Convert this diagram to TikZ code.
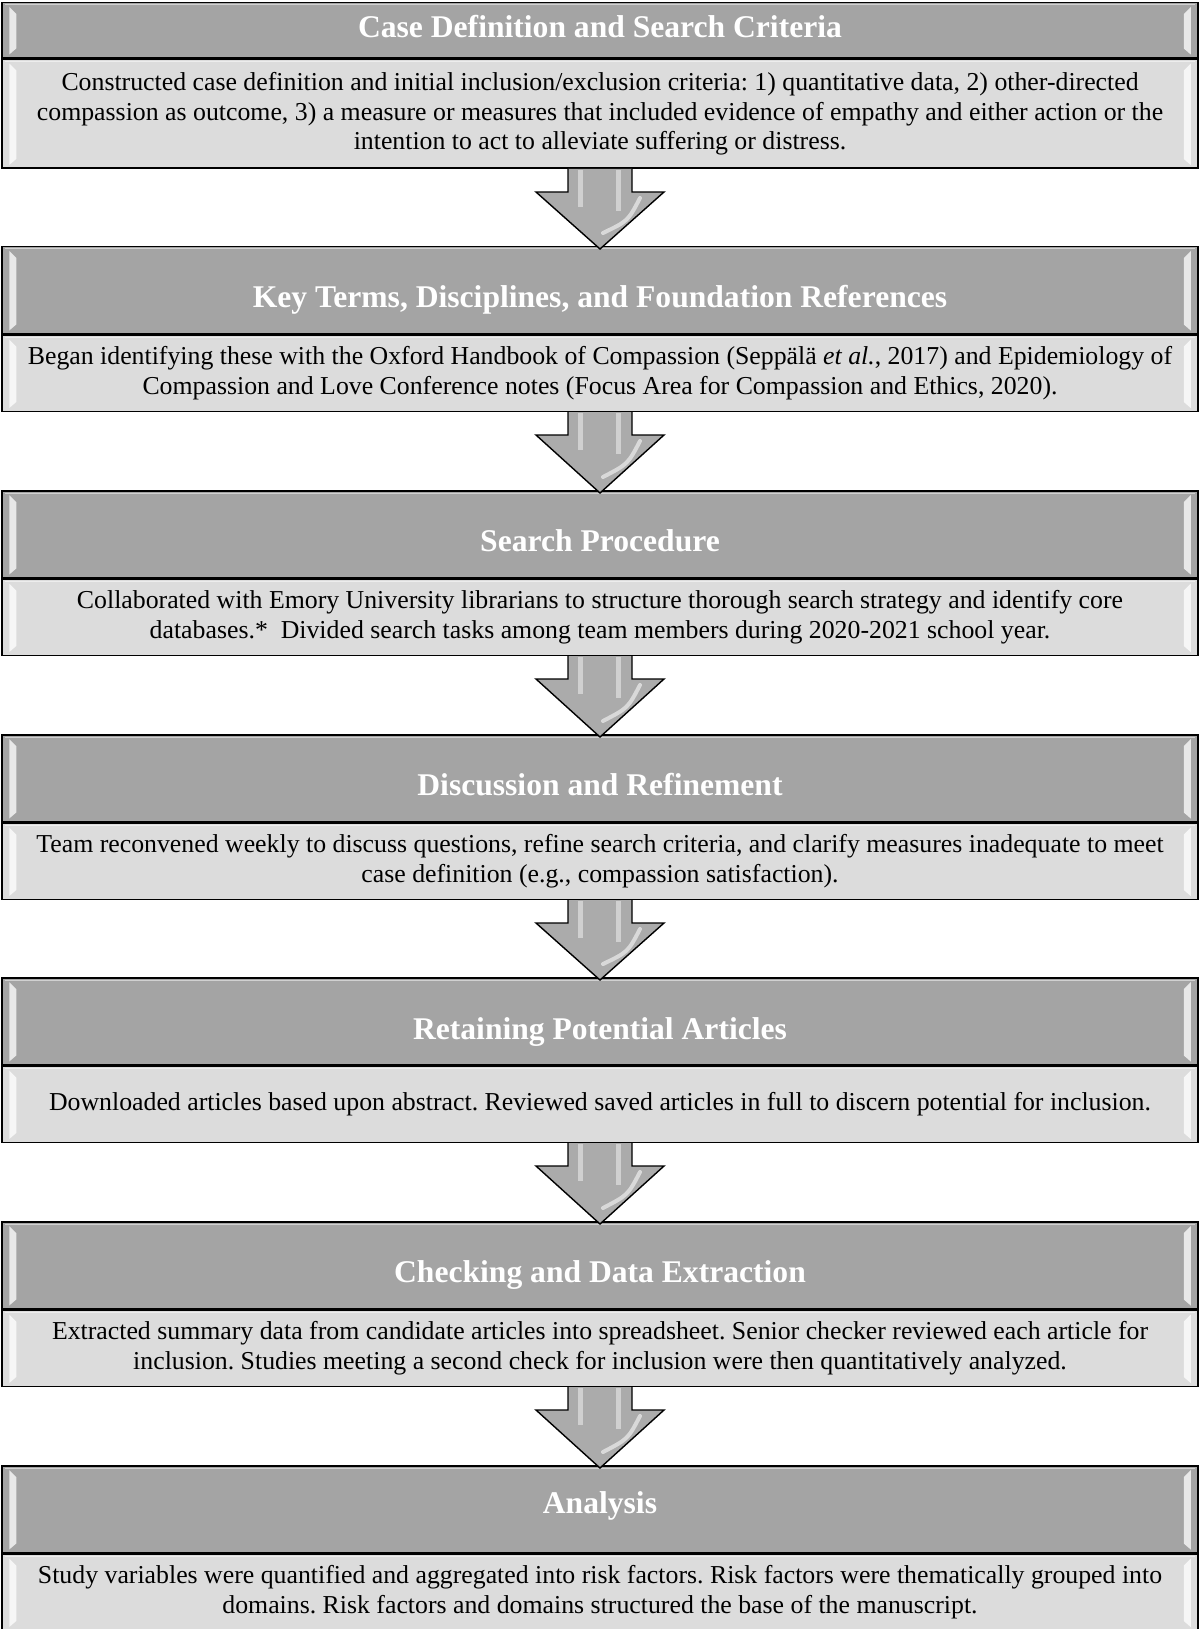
\documentclass[tikz,border=0pt]{standalone}
\usepackage{fontspec}
\setmainfont{Liberation Serif}
\usetikzlibrary{calc}
\definecolor{hdrgray}{HTML}{A4A4A4}
\definecolor{bodygray}{HTML}{DCDCDC}
\definecolor{arrowgray}{HTML}{ABABAB}
\tikzset{
  hdrbox/.style={draw=black, line width=1.5pt, fill=hdrgray, minimum width=1196pt,
    minimum height=#1, anchor=north, inner sep=0pt, text=white, text depth=0pt,
    text height=35pt, font=\fontsize{31.6}{36}\selectfont\bfseries},
  tshift/.style={text height=#1},
  bodybox/.style={draw=black, line width=1.5pt, fill=bodygray, minimum width=1196pt,
    minimum height=#1, anchor=north, inner sep=0pt, align=center,
    font=\fontsize{25.8}{29.5}\selectfont\frenchspacing},
  bevel/.style={fill=white, opacity=0.75},
  arrowedge/.style={draw=black, line width=1.4pt, line join=miter},
  shine/.style={draw=white, line width=5pt, opacity=0.45}
}
\newcommand\bevelbox[1]{%
  \fill[bevel] ($(#1.north west)+(8,-5)$) -- ($(#1.north west)+(15,-12)$)
     -- ($(#1.south west)+(15,10)$) -- ($(#1.south west)+(8,4)$) -- cycle;
  \fill[bevel] ($(#1.north east)+(-8,-5)$) -- ($(#1.north east)+(-15,-12)$)
     -- ($(#1.south east)+(-15,10)$) -- ($(#1.south east)+(-8,4)$) -- cycle;
  \draw[white, opacity=0.5, line width=1pt] ($(#1.north west)+(4,-3)$) -- ($(#1.north east)+(-4,-3)$);
}
\newcommand\blockarrow[2]{%
  \fill[arrowgray] ($(#1.south)+(-32,0)$) -- ($(#1.south)+(-32,-23)$) -- ($(#1.south)+(-64,-23)$)
     -- ($(#2.north)+(0,-3)$) -- ($(#1.south)+(64,-23)$) -- ($(#1.south)+(32,-23)$)
     -- ($(#1.south)+(32,0)$) -- cycle;
  \draw[shine] ($(#1.south)+(-20,-1)$) -- ($(#1.south)+(-20,-38)$);
  \draw[shine] ($(#1.south)+(18,-1)$) -- ($(#1.south)+(18,-42)$);
  \draw[white, opacity=0.55, line width=4pt, line cap=round] ($(#1.south)+(40,-29)$) .. controls ($(#1.south)+(28,-52)$) .. ($(#2.north)+(3,13)$);
  \draw[arrowedge] ($(#1.south)+(-32,0)$) -- ($(#1.south)+(-32,-23)$) -- ($(#1.south)+(-64,-23)$)
     -- ($(#2.north)+(0,-3)$) -- ($(#1.south)+(64,-23)$) -- ($(#1.south)+(32,-23)$)
     -- ($(#1.south)+(32,0)$);
}
\begin{document}
\begin{tikzpicture}[x=1pt,y=1pt]
\useasboundingbox (0,0) rectangle (1200,-1629);
\fill[white] (0,0) rectangle (1200,-1629);

\node[hdrbox=55pt, tshift=15pt] (h1) at (600,-2) {Case Definition and Search Criteria};
\node[bodybox=109pt] (b1) at (h1.south) {Constructed case definition and initial inclusion/exclusion criteria: 1) quantitative data, 2) other-directed\\compassion as outcome, 3) a measure or measures that included evidence of empathy and either action or the\\intention to act to alleviate suffering or distress.};

\node[hdrbox=87pt] (h2) at (600,-246) {Key Terms, Disciplines, and Foundation References};
\node[bodybox=76pt] (b2) at (h2.south) {Began identifying these with the Oxford Handbook of Compassion (Seppälä \textit{et al.}, 2017) and Epidemiology of\\Compassion and Love Conference notes (Focus Area for Compassion and Ethics, 2020).};

\node[hdrbox=87pt] (h3) at (600,-490) {Search Procedure};
\node[bodybox=76pt] (b3) at (h3.south) {Collaborated with Emory University librarians to structure thorough search strategy and identify core\\databases.*\ \ Divided search tasks among team members during 2020-2021 school year.};

\node[hdrbox=87pt] (h4) at (600,-734) {Discussion and Refinement};
\node[bodybox=76pt] (b4) at (h4.south) {Team reconvened weekly to discuss questions, refine search criteria, and clarify measures inadequate to meet\\case definition (e.g., compassion satisfaction).};

\node[hdrbox=87pt, tshift=37pt] (h5) at (600,-977) {Retaining Potential Articles};
\node[bodybox=76pt] (b5) at (h5.south) {Downloaded articles based upon abstract. Reviewed saved articles in full to discern potential for inclusion.};

\node[hdrbox=87pt] (h6) at (600,-1221) {Checking and Data Extraction};
\node[bodybox=76pt] (b6) at (h6.south) {Extracted summary data from candidate articles into spreadsheet. Senior checker reviewed each article for\\inclusion. Studies meeting a second check for inclusion were then quantitatively analyzed.};

\node[hdrbox=87pt, tshift=8pt] (h7) at (600,-1465) {Analysis};
\node[bodybox=76pt] (b7) at (h7.south) {Study variables were quantified and aggregated into risk factors. Risk factors were thematically grouped into\\domains. Risk factors and domains structured the base of the manuscript.};

\foreach \n in {h1,b1,h2,b2,h3,b3,h4,b4,h5,b5,h6,b6,h7,b7} {\bevelbox{\n}}

\blockarrow{b1}{h2}
\blockarrow{b2}{h3}
\blockarrow{b3}{h4}
\blockarrow{b4}{h5}
\blockarrow{b5}{h6}
\blockarrow{b6}{h7}
\end{tikzpicture}
\end{document}
